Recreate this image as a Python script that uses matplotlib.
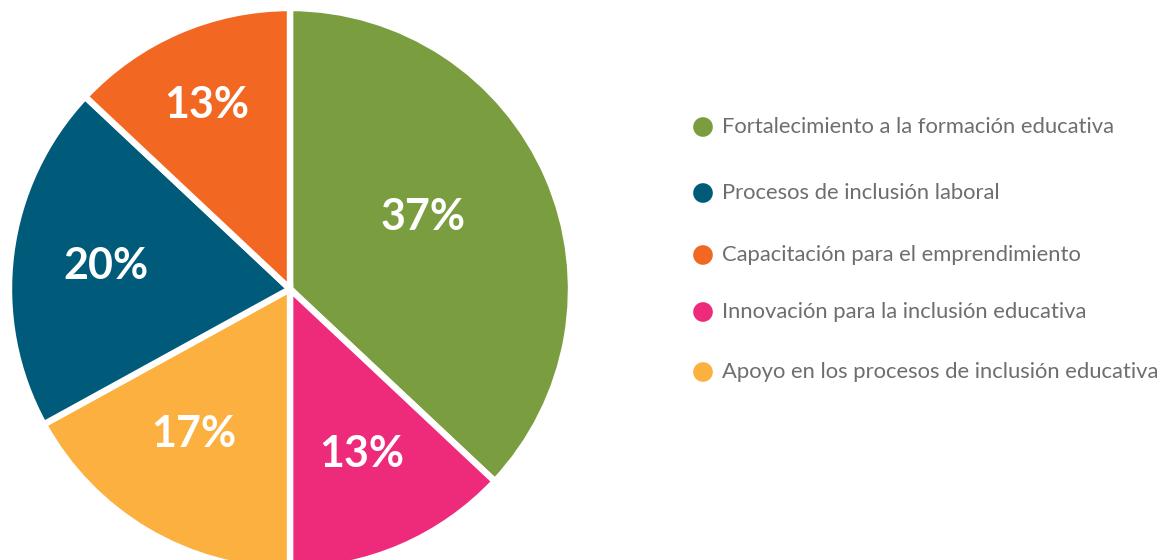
import numpy as np
import matplotlib.pyplot as plt

# datos del gráfico (orden de la torta, sentido horario desde arriba)
categorias = ['Fortalecimiento a la formación educativa',
              'Innovación para la inclusión educativa',
              'Apoyo en los procesos de inclusión educativa',
              'Procesos de inclusión laboral',
              'Capacitación para el emprendimiento']
valores = [37, 13, 17, 20, 13]
colores = ['#7A9D3F', '#EE2A7B', '#FBB040', '#005A7A', '#F26822']

# orden de la leyenda
orden_leyenda = [0, 3, 4, 1, 2]

plt.rcParams['font.family'] = ['Lato', 'DejaVu Sans']

fig = plt.figure(figsize=(11.72, 5.6), dpi=100)
ax = fig.add_axes([0, 0, 1, 1])

cx, cy, r = 290, 560 - 289, 281
wedges, _ = ax.pie(valores, colors=colores, startangle=90, counterclock=False,
                   center=(cx, cy), radius=r,
                   wedgeprops=dict(edgecolor='white', linewidth=4.6))

# posición radial de cada etiqueta (fracción del radio)
dist = [0.54, 0.64, 0.62, 0.66, 0.72]
ajuste = [5, 0, -3, 0, 1]
for w, v, d, a in zip(wedges, valores, dist, ajuste):
    ang = np.deg2rad((w.theta1 + w.theta2) / 2 + a)
    ax.text(cx + d * r * np.cos(ang), cy + d * r * np.sin(ang), f'{v}%',
            ha='center', va='center', color='white', fontsize=31, fontweight='bold')

# leyenda manual
filas_y = [127, 193, 255, 312, 372]
for i, y in zip(orden_leyenda, filas_y):
    ax.scatter([703], [560 - y], s=200, color=colores[i], edgecolors='none')
    ax.text(722, 560 - y, categorias[i], ha='left', va='center',
            color='#6D6E71', fontsize=15.8)

ax.set_xlim(0, 1172)
ax.set_ylim(0, 560)
ax.set_aspect('equal')
ax.axis('off')

plt.savefig('out.png', dpi=100)
